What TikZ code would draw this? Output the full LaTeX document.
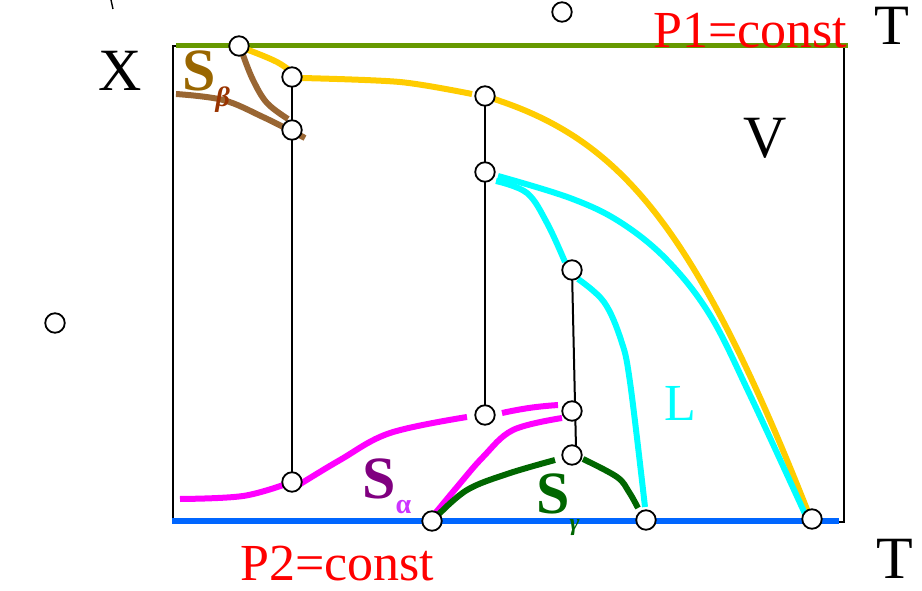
\documentclass[tikz,border=0pt]{standalone}
\usepackage{fontspec}
\setmainfont{Liberation Serif}
\definecolor{topgreen}{HTML}{669900}
\definecolor{botblue}{HTML}{0066FF}
\definecolor{cyellow}{HTML}{FFCC00}
\definecolor{ccyan}{HTML}{00FFFF}
\definecolor{cmag}{HTML}{FF00FF}
\definecolor{cdgreen}{HTML}{006600}
\definecolor{cbrown}{HTML}{996633}
\definecolor{sbS}{HTML}{996600}
\definecolor{sbsub}{HTML}{993300}
\definecolor{saS}{HTML}{800080}
\definecolor{sasub}{HTML}{CC33FF}
\definecolor{cred}{HTML}{FF0000}
\tikzset{
  pt/.style={circle, draw=black, fill=white, line width=1.8pt, minimum size=19.5pt, inner sep=0pt},
  phase/.style={line width=6pt},
  tie/.style={line width=2pt, black},
  frameline/.style={line width=1.6pt, black},
  bigtxt/.style={inner sep=0pt, font=\fontsize{60}{60}\selectfont},
  redtxt/.style={inner sep=0pt, text=cred, font=\fontsize{52}{52}\selectfont}
}
\begin{document}
\begin{tikzpicture}[x=1pt,y=-1pt]
\useasboundingbox (0,0) rectangle (922,591);
% frame
\coordinate (fTL) at (173,46);
\coordinate (fBL) at (173,522);
\coordinate (fTR) at (844,46);
\coordinate (fBR) at (844,522);
\draw[frameline] (fBL) -- (fTL) -- (176,46);
\draw[frameline] (fTR) -- (fBR) -- (838,522);
\draw[line width=5pt, topgreen] (176,46) -- (848,46);
\draw[line width=6pt, botblue] (172,521) -- (839,521);
% stray mark
\draw[line width=1.4pt] (111,0) -- (113,9);

% circle positions
\coordinate (p1) at (239,46);
\coordinate (p2) at (292,77);
\coordinate (p3) at (292,130);
\coordinate (p4) at (485,96);
\coordinate (p5) at (485,172);
\coordinate (p6) at (572,270);
\coordinate (p7) at (485,415);
\coordinate (p8) at (572,411);
\coordinate (p9) at (572,455);
\coordinate (p10) at (292,482);
\coordinate (p11) at (432,521);
\coordinate (p12) at (646,520);
\coordinate (p13) at (812,519);

% tie lines
\draw[tie] (p2) -- (p10);
\draw[tie] (p4) -- (p7);
\draw[tie] (p6) -- (576,448);

% S beta (brown)
\draw[phase, cbrown] plot[smooth, tension=0.6] coordinates {(176,94) (223,100) (263,117) (305,138)};
\draw[phase, cbrown] plot[smooth, tension=0.6] coordinates {(243,55) (253,80) (267,103) (288,119)};
% yellow V boundary
\draw[phase, cyellow] plot[smooth, tension=0.6] coordinates {(243,48) (277,62) (298,77)};
\draw[phase, cyellow] plot[smooth, tension=0.5] coordinates {(302,78) (400,82) (472,94)};
\draw[phase, cyellow] (494,99) .. controls (620,140) and (695,225) .. (810,517);
% cyan L
\draw[phase, ccyan] plot[smooth, tension=0.6] coordinates {(498,176) (570,198) (620,222) (667,260) (710,315) (750,395) (806,516)};
\draw[phase, ccyan] plot[smooth, tension=0.6] coordinates {(496,181) (527,193) (547,223) (565,262)};
\draw[phase, ccyan] plot[smooth, tension=0.6] coordinates {(578,279) (604,302) (621,340) (630,382) (645,507)};
% magenta S alpha
\draw[phase, cmag] plot[smooth, tension=0.6] coordinates {(180,499) (243,496) (289,483)};
\draw[phase, cmag] plot[smooth, tension=0.6] coordinates {(297,486) (340,460) (390,433) (467,417)};
\draw[phase, cmag] (502,413) to[bend left=4] (558,405);
\draw[phase, cmag] plot[smooth, tension=0.6] coordinates {(433,516) (457,487) (483,457) (513,430) (562,418)};
% dark green S gamma
\draw[phase, cdgreen] plot[smooth, tension=0.6] coordinates {(438,515) (467,490) (507,474) (555,460)};
\draw[phase, cdgreen] plot[smooth, tension=0.6] coordinates {(583,459) (617,477) (629,492) (638,508)};

% circles
\node[pt] (c1) at (p1) {};
\node[pt] (c2) at (p2) {};
\node[pt] (c3) at (p3) {};
\node[pt] (c4) at (p4) {};
\node[pt] (c5) at (p5) {};
\node[pt] (c6) at (p6) {};
\node[pt] (c7) at (p7) {};
\node[pt] (c8) at (p8) {};
\node[pt] (c9) at (p9) {};
\node[pt] (c10) at (p10) {};
\node[pt] (c11) at (p11) {};
\node[pt] (c12) at (p12) {};
\node[pt] (c13) at (p13) {};
\node[pt] (c14) at (562,12) {};
\node[pt] (c15) at (55,323) {};

% labels
\node[bigtxt, anchor=base] (lX) at (120,91) {X};
\node[inner sep=0pt, font=\fontsize{57}{57}\selectfont, anchor=base] (lT1) at (892,45) {T};
\node[bigtxt, anchor=base] (lT2) at (895,578) {T};
\node[bigtxt, anchor=base] (lV) at (765,158) {V};
\node[redtxt, anchor=base west] (lP1) at (653,48) {P1=const};
\node[redtxt, anchor=base west] (lP2) at (240,580) {P2=const};
\node[inner sep=0pt, anchor=base west, text=ccyan, font=\fontsize{52}{52}\selectfont] (lL) at (664,420) {L};
\node[inner sep=0pt, anchor=base west] (lSb) at (182,91) {\textcolor{sbS}{\fontsize{60}{60}\selectfont\bfseries S}\textcolor{sbsub}{\fontsize{28}{28}\selectfont\bfseries\itshape\raisebox{-16pt}{β}}};
\node[inner sep=0pt, anchor=base west] (lSa) at (362,498) {\textcolor{saS}{\fontsize{60}{60}\selectfont\bfseries S}\textcolor{sasub}{\fontsize{28}{28}\selectfont\bfseries\raisebox{-15pt}{α}}};
\node[inner sep=0pt, anchor=base west] (lSg) at (536,513) {\textcolor{cdgreen}{\fontsize{60}{60}\selectfont\bfseries S}\textcolor{cdgreen}{\fontsize{24}{24}\selectfont\bfseries\itshape\raisebox{-17pt}{γ}}};
\end{tikzpicture}
\end{document}
